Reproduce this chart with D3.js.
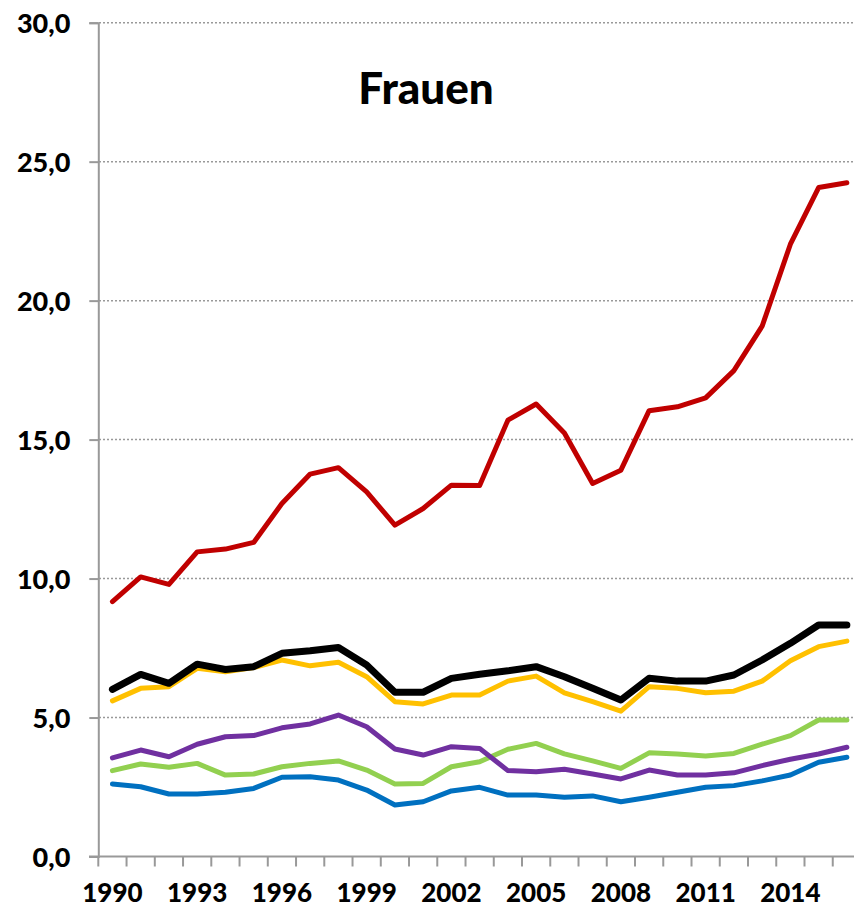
<!DOCTYPE html>
<html>
<head>
<meta charset="utf-8">
<script src="https://cdn.jsdelivr.net/npm/d3@7"></script>
<style>
  body { margin: 0; background: #fff; }
  text { font-family: Lato, "DejaVu Sans", sans-serif; font-weight: 900; }
</style>
</head>
<body>
<div id="container"></div>
<script>
const years = d3.range(1990, 2017);
const tickYears = [1990, 1993, 1996, 1999, 2002, 2005, 2008, 2011, 2014];
const yTicks = [0, 5, 10, 15, 20, 25, 30];

const red = [9.17, 10.06, 9.79, 10.96, 11.06, 11.30, 12.70, 13.76, 13.99, 13.12, 11.92, 12.52, 13.36,
  13.35, 15.70, 16.28, 15.24, 13.42, 13.90, 16.04, 16.18, 16.50, 17.48, 19.08, 22.03, 24.07, 24.24];
const black = [6.01, 6.55, 6.23, 6.92, 6.73, 6.83, 7.31, 7.40, 7.52, 6.89, 5.91, 5.91, 6.41,
  6.56, 6.68, 6.83, 6.47, 6.05, 5.63, 6.41, 6.31, 6.31, 6.53, 7.07, 7.67, 8.33, 8.33];
const yellow = [5.60, 6.05, 6.11, 6.77, 6.65, 6.80, 7.07, 6.86, 6.99, 6.47, 5.57, 5.49, 5.81,
  5.81, 6.31, 6.49, 5.89, 5.57, 5.23, 6.11, 6.05, 5.89, 5.95, 6.31, 7.04, 7.55, 7.75];
const purple = [3.55, 3.83, 3.59, 4.04, 4.31, 4.35, 4.63, 4.77, 5.09, 4.67, 3.87, 3.65, 3.95,
  3.89, 3.09, 3.05, 3.14, 2.97, 2.79, 3.11, 2.93, 2.93, 3.01, 3.27, 3.50, 3.69, 3.93];
const green = [3.09, 3.33, 3.21, 3.35, 2.93, 2.97, 3.23, 3.35, 3.44, 3.11, 2.61, 2.63, 3.23,
  3.41, 3.86, 4.07, 3.69, 3.44, 3.17, 3.73, 3.69, 3.62, 3.71, 4.04, 4.35, 4.91, 4.91];
const blue = [2.61, 2.51, 2.25, 2.25, 2.31, 2.45, 2.85, 2.87, 2.75, 2.39, 1.85, 1.97, 2.36,
  2.49, 2.21, 2.21, 2.13, 2.18, 1.97, 2.13, 2.31, 2.49, 2.55, 2.72, 2.93, 3.39, 3.57];

const series = [
  { name: 'blau', values: blue, color: '#0070C0', width: 5 },
  { name: 'grün', values: green, color: '#92D050', width: 5 },
  { name: 'lila', values: purple, color: '#7030A0', width: 5 },
  { name: 'gelb', values: yellow, color: '#FFC000', width: 5 },
  { name: 'schwarz', values: black, color: '#000000', width: 7 },
  { name: 'rot', values: red, color: '#C00000', width: 5 }
];

const width = 854, height = 908;

const svg = d3.select('#container')
  .append('svg')
  .attr('width', width)
  .attr('height', height);

const x = d3.scaleBand()
  .domain(years)
  .range([98.3, 861]);

const y = d3.scaleLinear()
  .domain([0, 30])
  .range([856.5, 22.7]);

// gridlines
svg.append('g')
  .selectAll('line')
  .data(yTicks.filter(d => d > 0))
  .enter()
  .append('line')
  .attr('x1', 99).attr('x2', width)
  .attr('y1', d => y(d)).attr('y2', d => y(d))
  .attr('stroke', '#999')
  .attr('stroke-width', 1.5)
  .attr('stroke-dasharray', '2,2');

// y axis
const yAxis = svg.append('g')
  .attr('transform', 'translate(98.3,0)')
  .call(d3.axisLeft(y).tickValues(yTicks).tickSize(9).tickPadding(19)
    .tickFormat(d => d3.format('.1f')(d).replace('.', ',')));

yAxis.selectAll('text')
  .attr('font-size', 27)
  .attr('fill', '#000')
  .attr('dy', '0.36em');

yAxis.select('.domain').attr('stroke', '#999').attr('stroke-width', 2);
yAxis.selectAll('.tick line').attr('stroke', '#999').attr('stroke-width', 2);

// x axis: ticks at band boundaries, labels at centers
const xAxis = svg.append('g')
  .attr('transform', `translate(0,${y(0)})`);

xAxis.append('line')
  .attr('x1', 89).attr('x2', width)
  .attr('stroke', '#999').attr('stroke-width', 2);

xAxis.selectAll('.xt')
  .data(years)
  .enter()
  .append('line')
  .attr('class', 'xt')
  .attr('x1', d => x(d)).attr('x2', d => x(d))
  .attr('y1', 0).attr('y2', 10)
  .attr('stroke', '#999').attr('stroke-width', 2);

xAxis.selectAll('.xl')
  .data(tickYears)
  .enter()
  .append('text')
  .attr('class', 'xl')
  .attr('x', d => x(d) + x.bandwidth() / 2)
  .attr('y', 45)
  .attr('text-anchor', 'middle')
  .attr('font-size', 26)
  .text(d => d);

// lines
const line = d3.line()
  .x((d, i) => x(years[i]) + x.bandwidth() / 2)
  .y(d => y(d));

svg.append('g')
  .selectAll('path')
  .data(series)
  .enter()
  .append('path')
  .attr('d', s => line(s.values))
  .attr('fill', 'none')
  .attr('stroke', s => s.color)
  .attr('stroke-width', s => s.width)
  .attr('stroke-linejoin', 'round')
  .attr('stroke-linecap', 'round');

// title
svg.append('text')
  .attr('x', 426)
  .attr('y', 104)
  .attr('text-anchor', 'middle')
  .attr('font-size', 44)
  .text('Frauen');
</script>
</body>
</html>
